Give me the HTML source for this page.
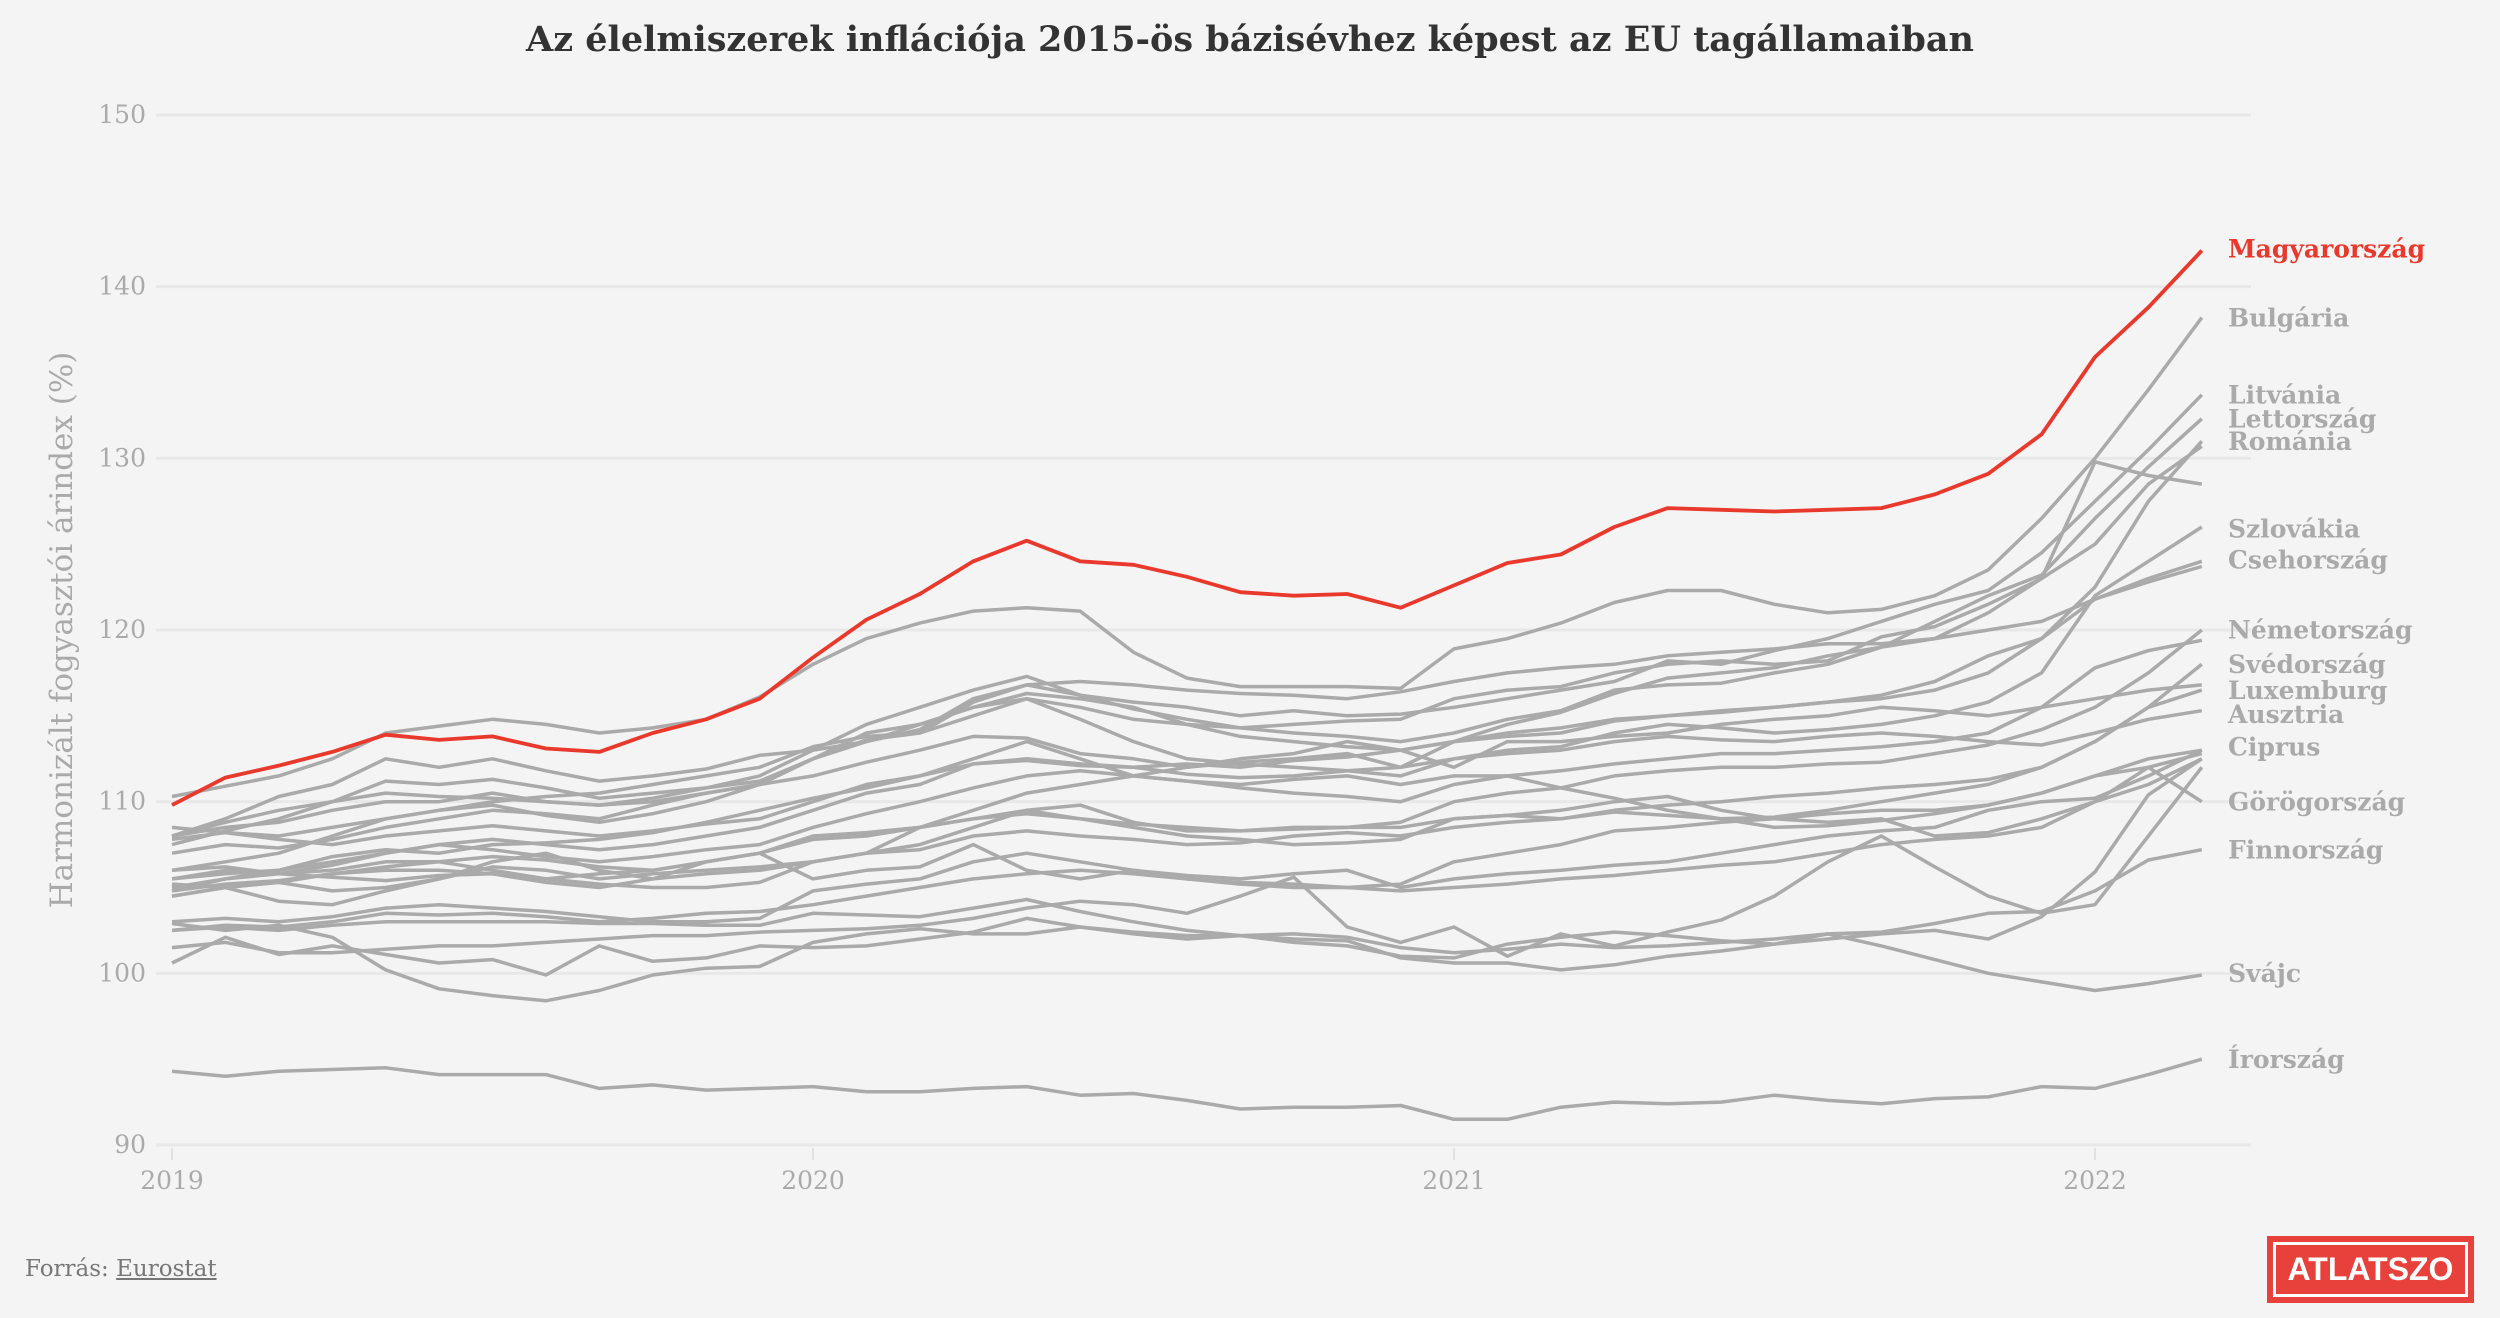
<!DOCTYPE html>
<html><head><meta charset="utf-8">
<style>
html,body{margin:0;padding:0;background:#f4f4f4;}
body{width:2500px;height:1318px;overflow:hidden;position:relative;font-family:"DejaVu Serif","Liberation Serif",serif;}
#title{position:absolute;left:0;top:19px;width:2500px;text-align:center;font-weight:bold;font-size:35px;color:#333;}
#src{position:absolute;left:25px;top:1256px;font-size:23px;color:#777;}
#src a{color:#777;text-decoration:underline;}
#logo{position:absolute;left:2267px;top:1236px;width:207px;height:67px;background:#e8403a;box-sizing:border-box;}
#logo div{position:absolute;left:6px;top:6px;right:6px;bottom:6px;border:3px solid #fff;color:#fff;font-family:"Liberation Sans",sans-serif;font-weight:bold;font-size:32px;text-align:center;line-height:49px;}
</style></head>
<body>
<div id="title">Az élelmiszerek inflációja 2015-ös bázisévhez képest az EU tagállamaiban</div>
<svg id="chart" width="2500" height="1318" style="position:absolute;left:0;top:0"></svg>
<div id="src">Forrás: <a>Eurostat</a></div>
<div id="logo"><div>ATLATSZO</div></div>
<script>
const yTicks=[90,100,110,120,130,140,150];
const xTickLabels=["2019","2020","2021","2022"];
const hungary=[109.8,111.4,112.1,112.9,113.9,113.6,113.8,113.1,112.9,114.0,114.8,116.0,118.4,120.6,122.1,124.0,125.2,124.0,123.8,123.1,122.2,122.0,122.1,121.3,122.6,123.9,124.4,126.0,127.1,127.0,126.9,127.0,127.1,127.9,129.1,131.4,135.9,138.8,142.1];
const bulgaria=[110.3,110.9,111.5,112.5,114.0,114.4,114.8,114.5,114.0,114.3,114.8,116.1,118.0,119.5,120.4,121.1,121.3,121.1,118.7,117.2,116.7,116.7,116.7,116.6,118.9,119.5,120.4,121.6,122.3,122.3,121.5,121.0,121.2,122.0,123.5,126.5,130.0,134.0,138.2];
const ireland=[94.3,94.0,94.3,94.4,94.5,94.1,94.1,94.1,93.3,93.5,93.2,93.3,93.4,93.1,93.1,93.3,93.4,92.9,93.0,92.6,92.1,92.2,92.2,92.3,91.5,91.5,92.2,92.5,92.4,92.5,92.9,92.6,92.4,92.7,92.8,93.4,93.3,94.1,95.0];
const switzerland=[102.9,102.5,102.8,102.1,100.2,99.1,98.7,98.4,99.0,99.9,100.3,100.4,101.8,102.3,102.6,102.3,102.3,102.7,102.3,102.0,102.2,102.3,102.1,101.5,101.2,101.4,101.7,101.5,101.6,101.8,102.0,102.3,101.6,100.8,100.0,99.5,99.0,99.4,99.9];
const finland=[102.5,102.7,102.5,102.8,103.0,103.0,103.0,103.0,102.9,102.9,102.8,102.8,103.5,103.4,103.3,103.8,104.3,103.6,103.0,102.5,102.2,102.0,101.9,100.9,100.6,100.6,100.2,100.5,101.0,101.3,101.7,102.3,102.4,102.9,103.5,103.6,104.8,106.6,107.2];
const seriesLowA=[100.6,102.1,101.1,101.6,101.1,100.6,100.8,99.9,101.6,100.7,100.9,101.6,101.5,101.6,102.0,102.4,103.2,102.7,102.4,102.2,102.2,101.8,101.6,101.0,100.9,101.7,102.1,102.4,102.2,101.9,101.7,102.0,102.3,102.5,102.0,103.3,105.9,110.4,112.5];
const seriesLowB=[101.5,101.8,101.2,101.2,101.4,101.6,101.6,101.8,102.0,102.2,102.2,102.4,102.5,102.6,102.8,103.2,103.8,104.2,104.0,103.5,104.5,105.6,102.7,101.8,102.7,101.0,102.3,101.6,102.4,103.1,104.5,106.5,108.0,106.2,104.5,103.5,104.0,108.0,112.0];
const lithuania=[108.0,109.0,110.3,111.0,112.5,112.0,112.5,111.8,111.2,111.5,111.9,112.7,113.0,114.5,115.5,116.5,117.3,116.2,115.8,115.5,115.0,115.3,115.0,115.1,115.5,116.0,116.5,117.0,118.2,118.0,118.8,119.5,120.5,121.5,122.3,124.5,127.5,130.5,133.7];
const latvia=[107.5,108.3,109.0,110.0,111.2,111.0,111.3,110.8,110.2,110.5,110.8,111.2,112.5,113.5,114.2,116.0,116.8,116.2,115.4,114.8,114.3,114.0,113.8,113.5,114.0,114.8,115.3,116.5,116.8,116.9,117.5,118.0,119.0,120.5,122.0,123.2,126.5,129.5,132.3];
const romania=[104.8,105.5,106.0,106.8,107.2,107.0,107.5,107.6,107.8,108.2,108.8,109.5,110.2,110.8,111.5,112.2,112.4,112.1,112.0,112.2,112.0,112.4,112.6,113.0,113.5,114.0,114.3,114.8,115.0,115.3,115.5,115.8,116.0,116.5,117.5,119.5,122.5,127.5,131.0];
const seriesHighA=[107.0,107.5,107.3,107.8,108.5,109.0,109.5,109.3,109.0,109.8,110.5,111.0,111.5,112.3,113.0,113.8,113.7,112.8,112.5,112.0,112.3,112.5,112.8,112.0,113.5,114.5,115.2,116.3,117.2,117.5,117.8,118.5,119.0,119.5,121.0,123.0,125.0,128.5,130.7];
const seriesHighB=[108.0,108.5,108.8,109.5,110.0,110.0,110.5,110.0,109.8,110.0,110.5,111.0,112.5,114.0,114.5,115.5,116.0,115.5,114.8,114.5,114.3,114.5,114.7,114.8,116.0,116.5,116.7,117.5,118.0,118.2,118.0,118.2,119.6,120.2,121.5,123.0,129.8,129.0,128.5];
const slovakia=[105.5,105.8,106.0,106.5,107.0,107.5,107.8,107.5,107.2,107.5,108.0,108.5,109.5,110.5,111.0,112.2,112.5,112.2,112.0,111.6,111.4,111.5,111.8,112.0,112.5,113.0,113.2,114.0,114.5,114.3,114.0,114.2,114.5,115.0,115.8,117.5,122.0,124.0,126.0];
const czechia=[108.0,108.8,109.5,110.0,110.5,110.3,110.2,110.0,109.8,110.2,110.8,111.5,113.0,113.5,114.5,115.5,116.3,116.0,115.5,114.5,113.8,113.5,113.2,113.0,113.5,113.8,114.0,114.7,115.0,115.2,115.5,115.8,116.2,117.0,118.5,119.5,121.8,123.0,124.0];
const seriesMidA=[106.0,106.5,107.0,108.0,109.0,109.5,109.8,109.2,108.8,109.3,110.0,111.0,112.5,113.6,114.0,115.8,116.8,117.0,116.8,116.5,116.3,116.2,116.0,116.4,117.0,117.5,117.8,118.0,118.5,118.7,118.9,119.2,119.2,119.5,120.0,120.5,121.8,122.8,123.7];
const germany=[104.5,105.0,105.3,105.8,106.0,106.0,105.8,105.3,105.0,105.5,105.8,106.0,106.5,107.0,107.5,108.5,109.5,109.8,108.8,108.3,108.3,108.5,108.5,108.8,110.0,110.5,110.8,111.5,111.8,112.0,112.0,112.2,112.3,112.8,113.3,114.2,115.5,117.5,120.0];
const seriesMidB=[105.0,105.5,105.8,106.3,107.0,107.5,107.2,106.8,106.5,106.8,107.2,107.5,108.5,109.3,110.0,110.8,111.5,111.8,111.5,111.2,110.8,110.5,110.3,110.0,111.0,111.5,111.8,112.2,112.5,112.8,112.8,113.0,113.2,113.5,114.0,115.5,117.8,118.8,119.4];
const sweden=[105.2,105.0,105.3,104.8,105.0,105.5,106.2,106.0,105.5,105.8,106.0,106.2,106.5,107.0,107.2,108.0,108.3,108.0,107.8,107.5,107.6,108.0,108.2,108.0,108.5,108.8,109.0,109.4,109.2,109.0,109.1,109.5,110.0,110.5,111.0,112.0,113.5,115.5,118.0];
const luxembourg=[104.8,105.2,105.4,105.8,106.2,106.5,106.0,105.5,105.8,106.0,106.5,107.0,107.8,108.0,108.5,109.0,109.5,109.0,108.7,108.5,108.3,108.4,108.5,108.5,109.0,109.2,109.0,109.5,109.8,110.0,110.3,110.5,110.8,111.0,111.3,112.0,113.5,115.5,116.5];
const austria=[107.8,108.2,108.0,108.5,109.0,109.5,110.0,110.3,110.5,111.0,111.5,112.0,113.2,113.8,114.0,115.0,116.0,114.8,113.5,112.5,112.2,112.0,111.8,111.5,112.5,112.8,113.0,113.5,113.8,113.6,113.5,113.8,114.0,113.8,113.5,113.3,114.0,114.8,115.3];
const cyprus=[104.5,105.0,104.2,104.0,104.8,105.5,106.5,107.0,106.0,105.5,106.5,107.0,105.5,106.0,106.2,107.5,106.0,105.5,106.0,105.7,105.5,105.8,106.0,105.0,105.5,105.8,106.0,106.3,106.5,107.0,107.5,108.0,108.3,108.5,109.5,110.0,110.2,111.5,113.0];
const greece=[102.5,102.8,102.7,103.0,103.5,103.4,103.5,103.3,103.0,103.2,103.5,103.6,104.0,104.5,105.0,105.5,105.8,106.0,105.8,105.5,105.2,105.0,105.0,104.8,105.0,105.2,105.5,105.7,106.0,106.3,106.5,107.0,107.5,107.8,108.0,108.5,110.0,112.0,110.0];
const seriesC=[108.5,108.2,107.8,107.5,108.0,108.3,108.6,108.3,108.0,108.3,108.7,109.0,110.0,111.0,111.5,112.5,113.5,112.5,111.5,111.2,111.0,111.3,111.5,111.0,111.5,111.5,110.8,110.2,109.5,109.0,108.5,108.6,108.9,109.3,109.8,110.5,111.5,112.5,113.0];
const seriesD=[106.0,106.2,105.8,106.0,106.5,106.5,106.8,106.6,106.2,106.0,106.5,107.0,108.0,108.2,108.5,109.0,109.3,109.0,108.5,108.0,107.8,107.5,107.6,107.8,109.0,109.2,109.5,110.0,110.3,109.5,109.0,108.8,109.0,108.0,108.2,109.0,110.0,111.0,112.5];
const seriesE=[105.5,106.0,105.8,105.6,105.4,105.7,105.8,105.5,105.2,105.0,105.0,105.3,106.5,107.0,108.5,109.5,110.5,111.0,111.5,112.0,112.5,112.8,113.5,113.0,112.0,113.5,113.5,113.8,114.0,114.5,114.8,115.0,115.5,115.3,115.0,115.5,116.0,116.5,116.8];
const seriesF=[103.0,103.2,103.0,103.3,103.8,104.0,103.8,103.6,103.3,103.0,103.0,103.2,104.8,105.2,105.5,106.5,107.0,106.5,106.0,105.5,105.3,105.2,105.0,105.2,106.5,107.0,107.5,108.3,108.5,108.8,109.0,109.3,109.5,109.5,109.8,110.5,111.5,112.0,112.8];
const greySeries=[bulgaria,ireland,switzerland,finland,seriesLowA,seriesLowB,lithuania,latvia,romania,seriesHighA,seriesHighB,slovakia,czechia,seriesMidA,germany,seriesMidB,sweden,luxembourg,austria,cyprus,greece,seriesC,seriesD,seriesE,seriesF];
const labelNames=["Magyarország","Bulgária","Litvánia","Lettország","Románia","Szlovákia","Csehország","Németország","Svédország","Luxemburg","Ausztria","Ciprus","Görögország","Finnország","Svájc","Írország"];
const labelValues=[142.8,138.8,134.3,132.9,131.6,126.5,124.7,120.6,118.6,117.1,115.7,113.8,110.6,107.8,100.6,95.6];

const NS="http://www.w3.org/2000/svg";
const svg=document.getElementById('chart');
const X0=172, MONTH=641/12, PLOT_R=2251, PLOT_L=156;
function xScale(m){return X0+m*MONTH;}
function yScale(v){return 1145-(v-90)*(1030/60);}
function mk(tag,attrs){const e=document.createElementNS(NS,tag);for(const k in attrs)e.setAttribute(k,attrs[k]);svg.appendChild(e);return e;}

yTicks.forEach(t=>{
  const g=mk('line',{x1:PLOT_L,x2:PLOT_R,y1:yScale(t),y2:yScale(t),stroke:'#e8e8e8','stroke-width':3});
  
  
  const tx=mk('text',{x:146,y:yScale(t)+8,'text-anchor':'end','font-size':25,fill:'#aaa','font-family':'DejaVu Serif, serif'});
  tx.textContent=t;
  
  
});
xTickLabels.forEach((l,i)=>{
  const x=xScale(i*12);
  const tk=mk('line',{x1:x,x2:x,y1:1148,y2:1160,stroke:'#e2e2e2','stroke-width':2});
  
  
  const tx=mk('text',{x:x,y:1189,'text-anchor':'middle','font-size':25,fill:'#aaa','font-family':'DejaVu Serif, serif'});
  tx.textContent=l;
  
  
});
const yt=mk('text',{x:0,y:0,transform:'translate(72,630) rotate(-90)','text-anchor':'middle','font-size':31,fill:'#aaa','font-family':'DejaVu Serif, serif'});
yt.textContent='Harmonizált fogyasztói árindex (%)';



function pathFor(arr){return arr.map((v,i)=>(i?'L':'M')+xScale(i).toFixed(1)+','+yScale(v).toFixed(1)).join(' ');}
greySeries.forEach((s,i)=>{
  const p=mk('path',{d:pathFor(s),fill:'none',stroke:'#aaaaaa','stroke-width':3.5,'stroke-linejoin':'round'});
  
  
});
const hp=mk('path',{d:pathFor(hungary),fill:'none',stroke:'#e8392c','stroke-width':3.8,'stroke-linejoin':'round'});



labelNames.forEach((n,i)=>{
  const t=mk('text',{x:2228,y:yScale(labelValues[i])+19,'font-size':25,'font-weight':'bold',fill:i===0?'#e8392c':'#aaaaaa','font-family':'DejaVu Serif, serif'});
  t.textContent=n;
  
  
});
</script>
</body></html>
